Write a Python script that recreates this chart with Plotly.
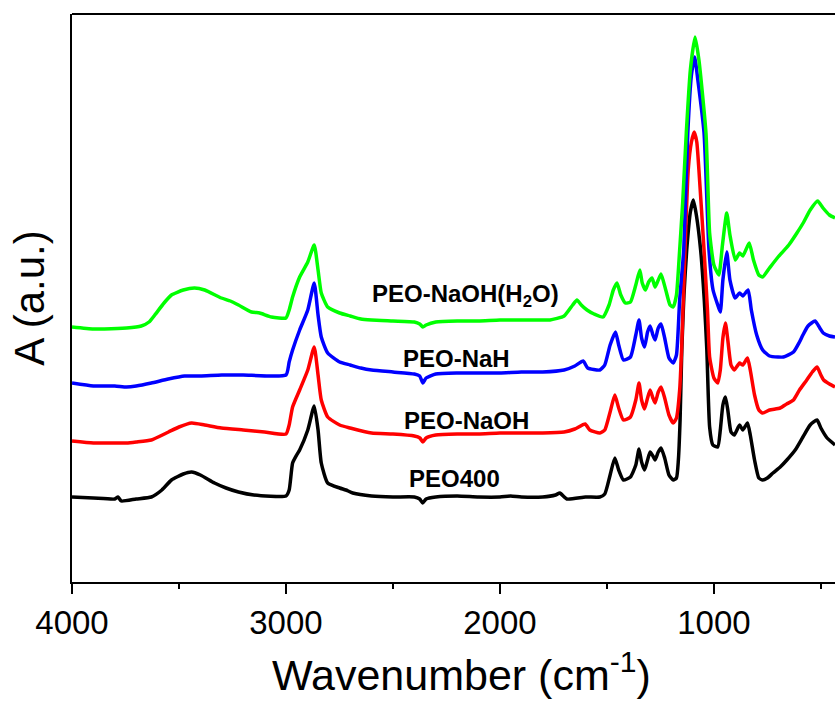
import plotly.graph_objects as go

# (wavenumber cm^-1, absorbance a.u.)
peo400 = [(4000,0.85),(3900,0.84),(3800,0.83),(3785,0.85),(3770,0.81),(3700,0.83),(3629,0.85),(3580,0.92),
          (3535,1.02),(3480,1.08),(3441,1.10),(3400,1.07),(3334,0.99),(3280,0.94),(3222,0.90),(3150,0.87),
          (3000,0.86),(2985,0.92),(2969,1.19),(2950,1.27),(2936,1.32),(2898,1.52),(2868,1.76),(2850,1.52),
          (2835,1.19),(2805,0.99),(2749,0.94),(2720,0.92),(2688,0.89),(2600,0.86),(2500,0.85),(2400,0.85),
          (2375,0.83),(2361,0.79),(2345,0.83),(2300,0.85),(2200,0.86),(2100,0.85),(2000,0.85),(1950,0.86),
          (1900,0.85),(1800,0.85),(1740,0.87),(1720,0.89),(1687,0.83),(1600,0.85),(1533,0.85),(1510,0.88),
          (1485,1.07),(1463,1.24),(1445,1.12),(1423,1.02),(1390,1.05),(1365,1.17),(1350,1.33),(1338,1.20),
          (1324,1.12),(1310,1.22),(1298,1.30),(1285,1.26),(1275,1.22),(1260,1.30),(1247,1.34),(1230,1.24),
          (1210,1.07),(1190,1.02),(1175,1.04),(1166,1.22),(1158,1.62),(1150,2.32),(1140,2.87),(1127,3.32),
          (1110,3.70),(1096,3.82),(1082,3.67),(1062,3.32),(1045,2.82),(1033,2.32),(1020,1.55),(1005,1.37),
          (982,1.35),(970,1.52),(958,1.77),(946,1.85),(935,1.72),(920,1.50),(905,1.47),(880,1.57),
          (865,1.52),(843,1.59),(830,1.47),(810,1.22),(790,1.04),(772,1.02),(750,1.04),(724,1.09),
          (690,1.15),(659,1.22),(620,1.32),(584,1.45),(550,1.57),(518,1.62),(500,1.54),(471,1.44),
          (450,1.40),(434,1.37)]

peo_naoh = [(4000,1.41),(3900,1.39),(3800,1.39),(3745,1.39),(3700,1.40),(3629,1.42),(3549,1.50),(3500,1.55),
            (3441,1.59),(3380,1.57),(3302,1.54),(3200,1.52),(3100,1.50),(3000,1.48),(2985,1.57),(2969,1.75),
            (2936,1.92),(2898,2.12),(2868,2.35),(2850,2.07),(2835,1.82),(2805,1.65),(2749,1.57),(2700,1.54),
            (2600,1.49),(2500,1.48),(2400,1.46),(2374,1.44),(2360,1.40),(2345,1.44),(2300,1.47),(2200,1.48),
            (2100,1.48),(2000,1.49),(1900,1.49),(1800,1.49),(1700,1.50),(1650,1.53),(1602,1.58),(1580,1.52),
            (1533,1.49),(1510,1.52),(1485,1.70),(1463,1.87),(1445,1.74),(1423,1.62),(1390,1.65),(1365,1.82),
            (1350,1.99),(1338,1.82),(1324,1.73),(1310,1.84),(1298,1.92),(1285,1.84),(1275,1.79),(1260,1.90),
            (1247,1.95),(1230,1.84),(1210,1.67),(1190,1.59),(1175,1.64),(1160,1.92),(1151,2.32),(1135,3.32),
            (1120,4.12),(1105,4.40),(1092,4.50),(1080,4.40),(1070,4.12),(1046,3.32),(1030,2.72),(1020,2.25),
            (1000,2.04),(982,1.99),(970,2.12),(958,2.44),(946,2.59),(935,2.42),(920,2.17),(905,2.12),
            (880,2.19),(865,2.17),(843,2.24),(830,2.12),(810,1.87),(790,1.72),(772,1.69),(740,1.72),
            (690,1.74),(660,1.78),(628,1.82),(600,1.92),(566,2.02),(540,2.10),(518,2.15),(500,2.07),
            (487,2.02),(460,1.98),(434,1.95)]

peo_nah = [(4000,1.99),(3900,1.96),(3800,1.96),(3745,1.95),(3700,1.96),(3629,1.99),(3550,2.03),(3474,2.06),
           (3400,2.06),(3300,2.07),(3200,2.07),(3000,2.07),(2985,2.20),(2969,2.32),(2936,2.52),(2898,2.72),
           (2868,2.99),(2850,2.67),(2835,2.45),(2805,2.29),(2749,2.20),(2700,2.17),(2650,2.14),(2600,2.12),
           (2500,2.10),(2400,2.08),(2375,2.06),(2360,1.99),(2345,2.04),(2300,2.08),(2200,2.09),(2100,2.09),
           (2000,2.09),(1900,2.10),(1800,2.10),(1700,2.12),(1650,2.16),(1611,2.21),(1590,2.14),(1533,2.12),
           (1510,2.17),(1485,2.37),(1460,2.50),(1445,2.37),(1423,2.22),(1390,2.25),(1365,2.47),(1350,2.62),
           (1338,2.44),(1324,2.35),(1310,2.50),(1298,2.56),(1285,2.47),(1275,2.42),(1260,2.54),(1247,2.58),
           (1230,2.44),(1210,2.24),(1190,2.19),(1175,2.27),(1160,2.82),(1141,3.32),(1122,4.49),(1105,5.07),
           (1090,5.25),(1075,5.02),(1046,4.49),(1023,3.32),(1004,2.92),(982,2.77),(970,2.70),(958,3.02),
           (940,3.30),(925,3.02),(901,2.84),(880,2.89),(865,2.86),(840,2.92),(825,2.72),(800,2.47),
           (772,2.32),(740,2.26),(700,2.25),(675,2.25),(628,2.30),(600,2.40),(584,2.47),(560,2.56),
           (527,2.61),(505,2.54),(489,2.49),(460,2.46),(434,2.45)]

peo_naoh_h2o = [(4000,2.55),(3900,2.53),(3849,2.53),(3745,2.54),(3676,2.56),(3640,2.60),(3613,2.67),(3570,2.79),
                (3535,2.87),(3480,2.92),(3427,2.94),(3380,2.92),(3302,2.84),(3260,2.81),(3222,2.77),(3161,2.70),
                (3123,2.69),(3068,2.65),(3000,2.64),(2985,2.72),(2969,2.85),(2936,3.05),(2898,3.20),(2868,3.37),
                (2850,3.12),(2835,2.89),(2805,2.75),(2749,2.69),(2700,2.66),(2650,2.63),(2600,2.62),(2500,2.61),
                (2400,2.60),(2375,2.58),(2360,2.55),(2345,2.57),(2300,2.60),(2200,2.61),(2100,2.61),(2000,2.62),
                (1900,2.62),(1800,2.62),(1766,2.62),(1700,2.66),(1660,2.77),(1640,2.82),(1620,2.77),(1593,2.72),
                (1560,2.68),(1518,2.65),(1490,2.77),(1470,2.92),(1453,2.99),(1435,2.87),(1414,2.79),(1390,2.80),
                (1365,2.97),(1346,3.12),(1335,2.99),(1320,2.92),(1305,3.00),(1289,3.04),(1275,2.95),(1260,3.02),
                (1247,3.08),(1225,2.92),(1205,2.77),(1190,2.75),(1175,2.87),(1160,3.32),(1146,3.79),(1129,4.49),
                (1110,5.12),(1088,5.45),(1070,5.22),(1037,4.49),(1020,3.49),(1000,3.17),(977,3.07),(960,3.37),
                (940,3.69),(925,3.47),(900,3.22),(880,3.29),(865,3.26),(835,3.39),(815,3.22),(790,3.07),
                (772,3.05),(740,3.14),(700,3.25),(650,3.37),(612,3.49),(580,3.60),(550,3.72),(515,3.81),
                (490,3.74),(460,3.67),(434,3.64)]

series = [("PEO400", peo400, "#000000"),
          ("PEO-NaOH", peo_naoh, "#ff0000"),
          ("PEO-NaH", peo_nah, "#0000ff"),
          ("PEO-NaOH(H<sub>2</sub>O)", peo_naoh_h2o, "#00ff00")]

# label positions (wavenumber, a.u.)
label_pos = {"PEO400": (2211, 1.04),
             "PEO-NaOH": (2155, 1.62),
             "PEO-NaH": (2202, 2.24),
             "PEO-NaOH(H<sub>2</sub>O)": (2160, 2.87)}

x_title = "Wavenumber (cm<sup>-1</sup>)"
y_title = "A (a.u.)"

FONT = "Liberation Sans, Arial, sans-serif"

fig = go.Figure()
for name, data, color in series:
    xs = [p[0] for p in data]
    ys = [p[1] for p in data]
    fig.add_trace(go.Scatter(x=xs, y=ys, mode="lines", name=name,
                             line=dict(color=color, width=3.5, shape="spline", smoothing=0.5),
                             showlegend=False, hoverinfo="skip"))

for name, (lx, ly) in label_pos.items():
    fig.add_annotation(x=lx, y=ly, xref="x", yref="y", text="<b>%s</b>" % name,
                       showarrow=False, font=dict(family=FONT, size=24, color="#000000"),
                       xanchor="center", yanchor="middle")

# x-axis title placed as text below the axis (slightly right of plot centre, as in the reference)
fig.add_annotation(x=0.5105, y=-0.158, xref="paper", yref="paper", text=x_title,
                   showarrow=False, font=dict(family=FONT, size=43, color="#000000"),
                   xanchor="center", yanchor="middle")

# top frame line
fig.add_shape(type="line", xref="paper", yref="paper", x0=0, x1=1, y0=1, y1=1,
              line=dict(color="#000000", width=2))

fig.update_layout(
    width=835, height=702,
    margin=dict(l=72, r=0, t=14, b=120),
    paper_bgcolor="white", plot_bgcolor="white",
    font=dict(family=FONT, color="#000000"),
)
fig.update_xaxes(
    range=[4000, 434], showgrid=False, zeroline=False,
    showline=True, linewidth=2, linecolor="#000000",
    ticks="outside", ticklen=10, tickwidth=2, tickcolor="#000000",
    tick0=0, dtick=1000,
    tickfont=dict(family=FONT, size=33, color="#000000"),
    minor=dict(ticks="outside", ticklen=5, tickwidth=2, tickcolor="#000000", tick0=0, dtick=500),
)
fig.update_yaxes(
    range=[0, 5.68], showgrid=False, zeroline=False,
    showline=True, linewidth=2, linecolor="#000000",
    ticks="", showticklabels=False,
    title=dict(text=y_title, font=dict(family=FONT, size=42, color="#000000"), standoff=12),
)

fig.write_html("out.html")
